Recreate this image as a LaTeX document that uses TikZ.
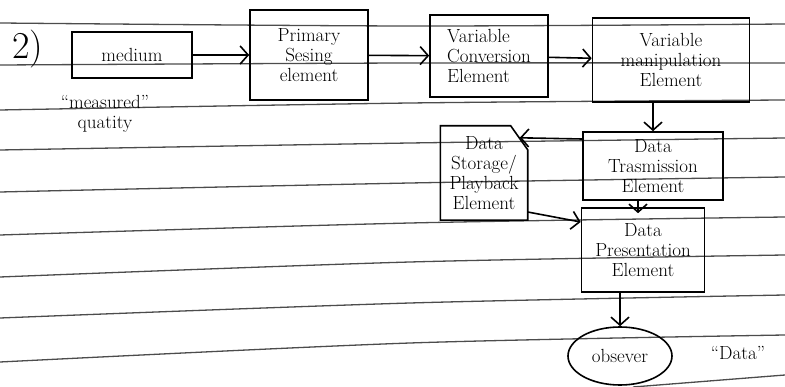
\documentclass[tikz,border=0pt]{standalone}
\usepackage{tikz}
\usetikzlibrary{calc,arrows,positioning}
\usetikzlibrary{shapes.geometric}
\usetikzlibrary{arrows.meta}
\tikzset{
hand_text/.style={font=\fontsize{19}{20}\selectfont, align=center},
block_box/.style={rectangle, draw, line width=1.6pt, hand_text, inner sep=2pt},
store_box/.style={rectangle, hand_text, minimum width=87, minimum height=94},
observer_blob/.style={ellipse, draw, line width=1.6pt, hand_text, minimum width=104, minimum height=58},
flow/.style={line width=1.6pt, -{Straight Barb[length=8pt,width=18pt,line width=1.6pt]}},
ruled_line/.style={black!70, line width=1.3pt}
}

\begin{document}
\begin{tikzpicture}[x=1pt,y=-1pt]
    \useasboundingbox (0,0) rectangle (785,387);
    % the ruled lines of the page
    \foreach \yl/\ym/\yr in {23/26/24,65/63/63,110/103/100,150/143/138,192/183/177,235/223/217,277/262/255,318/303/295,362/343/335}
        \draw[ruled_line] plot[smooth] coordinates {(0,\yl) (410,\ym) (785,\yr)};
    \draw[ruled_line] (633,387) -- (785,375);

    \node[hand_text, font=\fontsize{38}{40}\selectfont] (num) at (28,49) {2)};
    \node[block_box, minimum width=120, minimum height=46] (medium) at (132,55) {medium};
    \node[hand_text] (quantity) at (105,114) {``measured''\\quatity};
    \node[block_box, minimum width=118, minimum height=90] (primary) at (309,55) {Primary\\Sesing\\element};
    \node[block_box, minimum width=118, minimum height=82, align=left] (conversion) at (489,56) {Variable\\Conversion\\Element};
    \node[block_box, minimum width=157, minimum height=84] (manipulation) at (671,60) {Variable\\manipulation\\Element};
    \node[block_box, minimum width=140, minimum height=68] (transmission) at (653,166) {Data\\Trasmission\\Element};
    \node[store_box] (storage) at (484,173) {Data\\Storage/\\Playback\\Element};
    \draw[line width=1.6pt] (storage.north west) -- ([xshift=-17pt]storage.north east)
        -- ([yshift=-24pt]storage.north east) -- (storage.south east) -- (storage.south west) -- cycle;
    \node[block_box, minimum width=123, minimum height=84] (presentation) at (643,250) {Data\\Presentation\\Element};
    \node[observer_blob] (observer) at (620,356) {obsever};
    \node[hand_text] (data_note) at (738,353) {``Data''};

    % arrows
    \draw[flow] (medium) -- (primary);
    \draw[flow] (primary) -- (conversion);
    \draw[flow] (conversion) -- (manipulation);
    \draw[flow] (manipulation.south -| transmission.north) -- (transmission.north);
    \coordinate (fold) at ($(storage.north east)+(-8,12)$);
    \draw[flow] ([yshift=27pt]transmission.west) -- (fold);
    \draw[flow] ([xshift=-15pt]transmission.south) -- ($(transmission.south |- presentation.north)+(-15,6)$);
    \draw[flow] ([yshift=-39pt]storage.east) -- ([yshift=28pt]presentation.west);
    \draw[flow] (presentation.south -| observer.north) -- (observer.north);
\end{tikzpicture}
\end{document}
